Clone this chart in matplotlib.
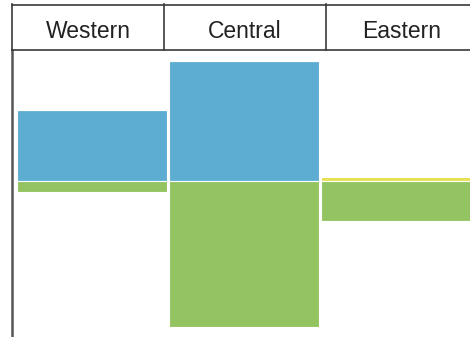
import matplotlib
matplotlib.use("Agg")
import matplotlib.pyplot as plt
import numpy as np

plt.rcParams["font.family"] = ["Liberation Sans", "DejaVu Sans"]

# ---------------------------------------------------------------- data ----
regions = ["Western", "Central", "Eastern"]
blue_vals = [3.55, 6.0, 0.0]
yellow_vals = [0.0, 0.0, 0.2]
green_vals = [-0.55, -7.3, -2.0]

BLUE, GREEN, YELLOW = "#5dacd2", "#94c462", "#e6e14c"
LINE = "#3a3a3a"

W, H = 470, 337
fig = plt.figure(figsize=(W / 100, H / 100), dpi=100)

# ------------------------------------------------------------- body ----
ax = fig.add_axes([12 / W, 0, (W - 12) / W, (H - 50) / H])
x = np.arange(len(regions))
bw = 0.987
ax.bar(x, blue_vals, width=bw, color=BLUE, edgecolor="white", lw=0.8)
ax.bar(x, yellow_vals, bottom=blue_vals, width=bw, color=YELLOW,
       edgecolor="white", lw=0.8)
ax.bar(x, green_vals, width=bw, color=GREEN, edgecolor="white", lw=0.8)
ax.set_xlim(-0.526, 2.487)
ax.set_ylim(-7.8, 6.55)
for s in ("top", "right", "bottom"):
    ax.spines[s].set_visible(False)
ax.spines["left"].set_color("#555555")
ax.spines["left"].set_linewidth(1.8)
ax.set_xticks([]); ax.set_yticks([])

# ----------------------------------------------------------- header ----
hx = fig.add_axes([0, (H - 50) / H, 1, 46 / H])
hx.set_xlim(0, W); hx.set_ylim(0, 46)
hx.axis("off")
edges = [12, 164, 326]
centers = [88, 245, 402]
hx.plot([12, W], [45.5, 45.5], color=LINE, lw=1.2, clip_on=False)
hx.plot([12, W], [0.3, 0.3], color=LINE, lw=1.2, clip_on=False)
for e in edges:
    hx.plot([e, e], [0, 46], color=LINE, lw=1.2, clip_on=False)
for c, name in zip(centers, regions):
    hx.text(c, 12, name, ha="center", va="baseline", fontsize=16.5,
            color="#222222")

fig.savefig("out.png", dpi=100)
